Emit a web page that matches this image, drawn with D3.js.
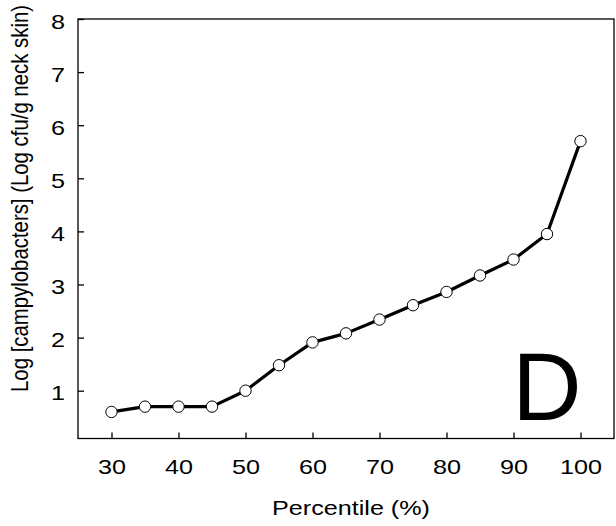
<!DOCTYPE html>
<html><head><meta charset="utf-8">
<script src="https://cdn.jsdelivr.net/npm/d3@7"></script>
<style>body{margin:0;background:#fff}svg{display:block}text{font-family:Arial,"Liberation Sans",sans-serif}</style>
</head><body><svg id="c" width="616" height="526"></svg>
<script>
const percentiles = [30,35,40,45,50,55,60,65,70,75,80,85,90,95,100];
const logCounts = [0.6,0.7,0.7,0.7,1.0,1.48,1.91,2.08,2.34,2.61,2.86,3.17,3.47,3.95,5.70];
const xTicks = [30,40,50,60,70,80,90,100];
const yTicks = [1,2,3,4,5,6,7,8];
const xTitle = "Percentile (%)";
const yTitle = "Log [campylobacters] (Log cfu/g neck skin)";
const panelLabel = "D";

const svg = d3.select("#c");
const L=78,R=614,T=19,B=438.5;
const SX=1.26; // horizontal text stretch seen in the reference
const x = d3.scaleLinear().domain([25,105]).range([L,R]);
const y = d3.scaleLinear().domain([0.1,8]).range([B,T]);

svg.append("rect").attr("x",L).attr("y",T).attr("width",R-L).attr("height",B-T)
  .attr("fill","none").attr("stroke","#000").attr("stroke-width",1.3);

const xa = svg.append("g").attr("transform",`translate(0,${B})`)
  .call(d3.axisBottom(x).tickValues(xTicks).tickSize(-6).tickPadding(21).tickFormat(d3.format("d")));
const ya = svg.append("g").attr("transform",`translate(${L},0)`)
  .call(d3.axisLeft(y).tickValues(yTicks).tickSize(-6).tickPadding(13).tickFormat(d3.format("d")));
[xa,ya].forEach(g=>{
  g.select(".domain").remove();
  g.selectAll(".tick line").attr("stroke","#000").attr("stroke-width",1.3);
  g.selectAll(".tick text").attr("font-size",20).attr("fill","#000")
   .attr("font-family","Arial, 'Liberation Sans', sans-serif")
   .attr("transform",`scale(${SX},1)`);
});
ya.selectAll(".tick text").attr("x",-13/SX).attr("dy","0.45em");

svg.append("text").attr("x",351).attr("y",515).attr("text-anchor","middle")
  .attr("font-size",20).attr("textLength",158).attr("lengthAdjust","spacingAndGlyphs").text(xTitle);
svg.append("text").attr("transform",`translate(28.3,198.5) scale(${SX},1) rotate(-90)`)
  .attr("text-anchor","middle").attr("font-size",19)
  .attr("textLength",387).attr("lengthAdjust","spacingAndGlyphs").text(yTitle);

svg.append("text").attr("x",547).attr("y",420).attr("text-anchor","middle")
  .attr("font-size",96).text(panelLabel);

const data = percentiles.map((p,i)=>({p,v:logCounts[i]}));
svg.append("path").datum(data)
  .attr("d",d3.line().x(d=>x(d.p)).y(d=>y(d.v)))
  .attr("fill","none").attr("stroke","#000").attr("stroke-width",3.2).attr("stroke-linejoin","round");
svg.selectAll("circle.pt").data(data).join("circle").attr("class","pt")
  .attr("cx",d=>x(d.p)).attr("cy",d=>y(d.v)).attr("r",5.7)
  .attr("fill","#fff").attr("stroke","#000").attr("stroke-width",1);
</script></body></html>
